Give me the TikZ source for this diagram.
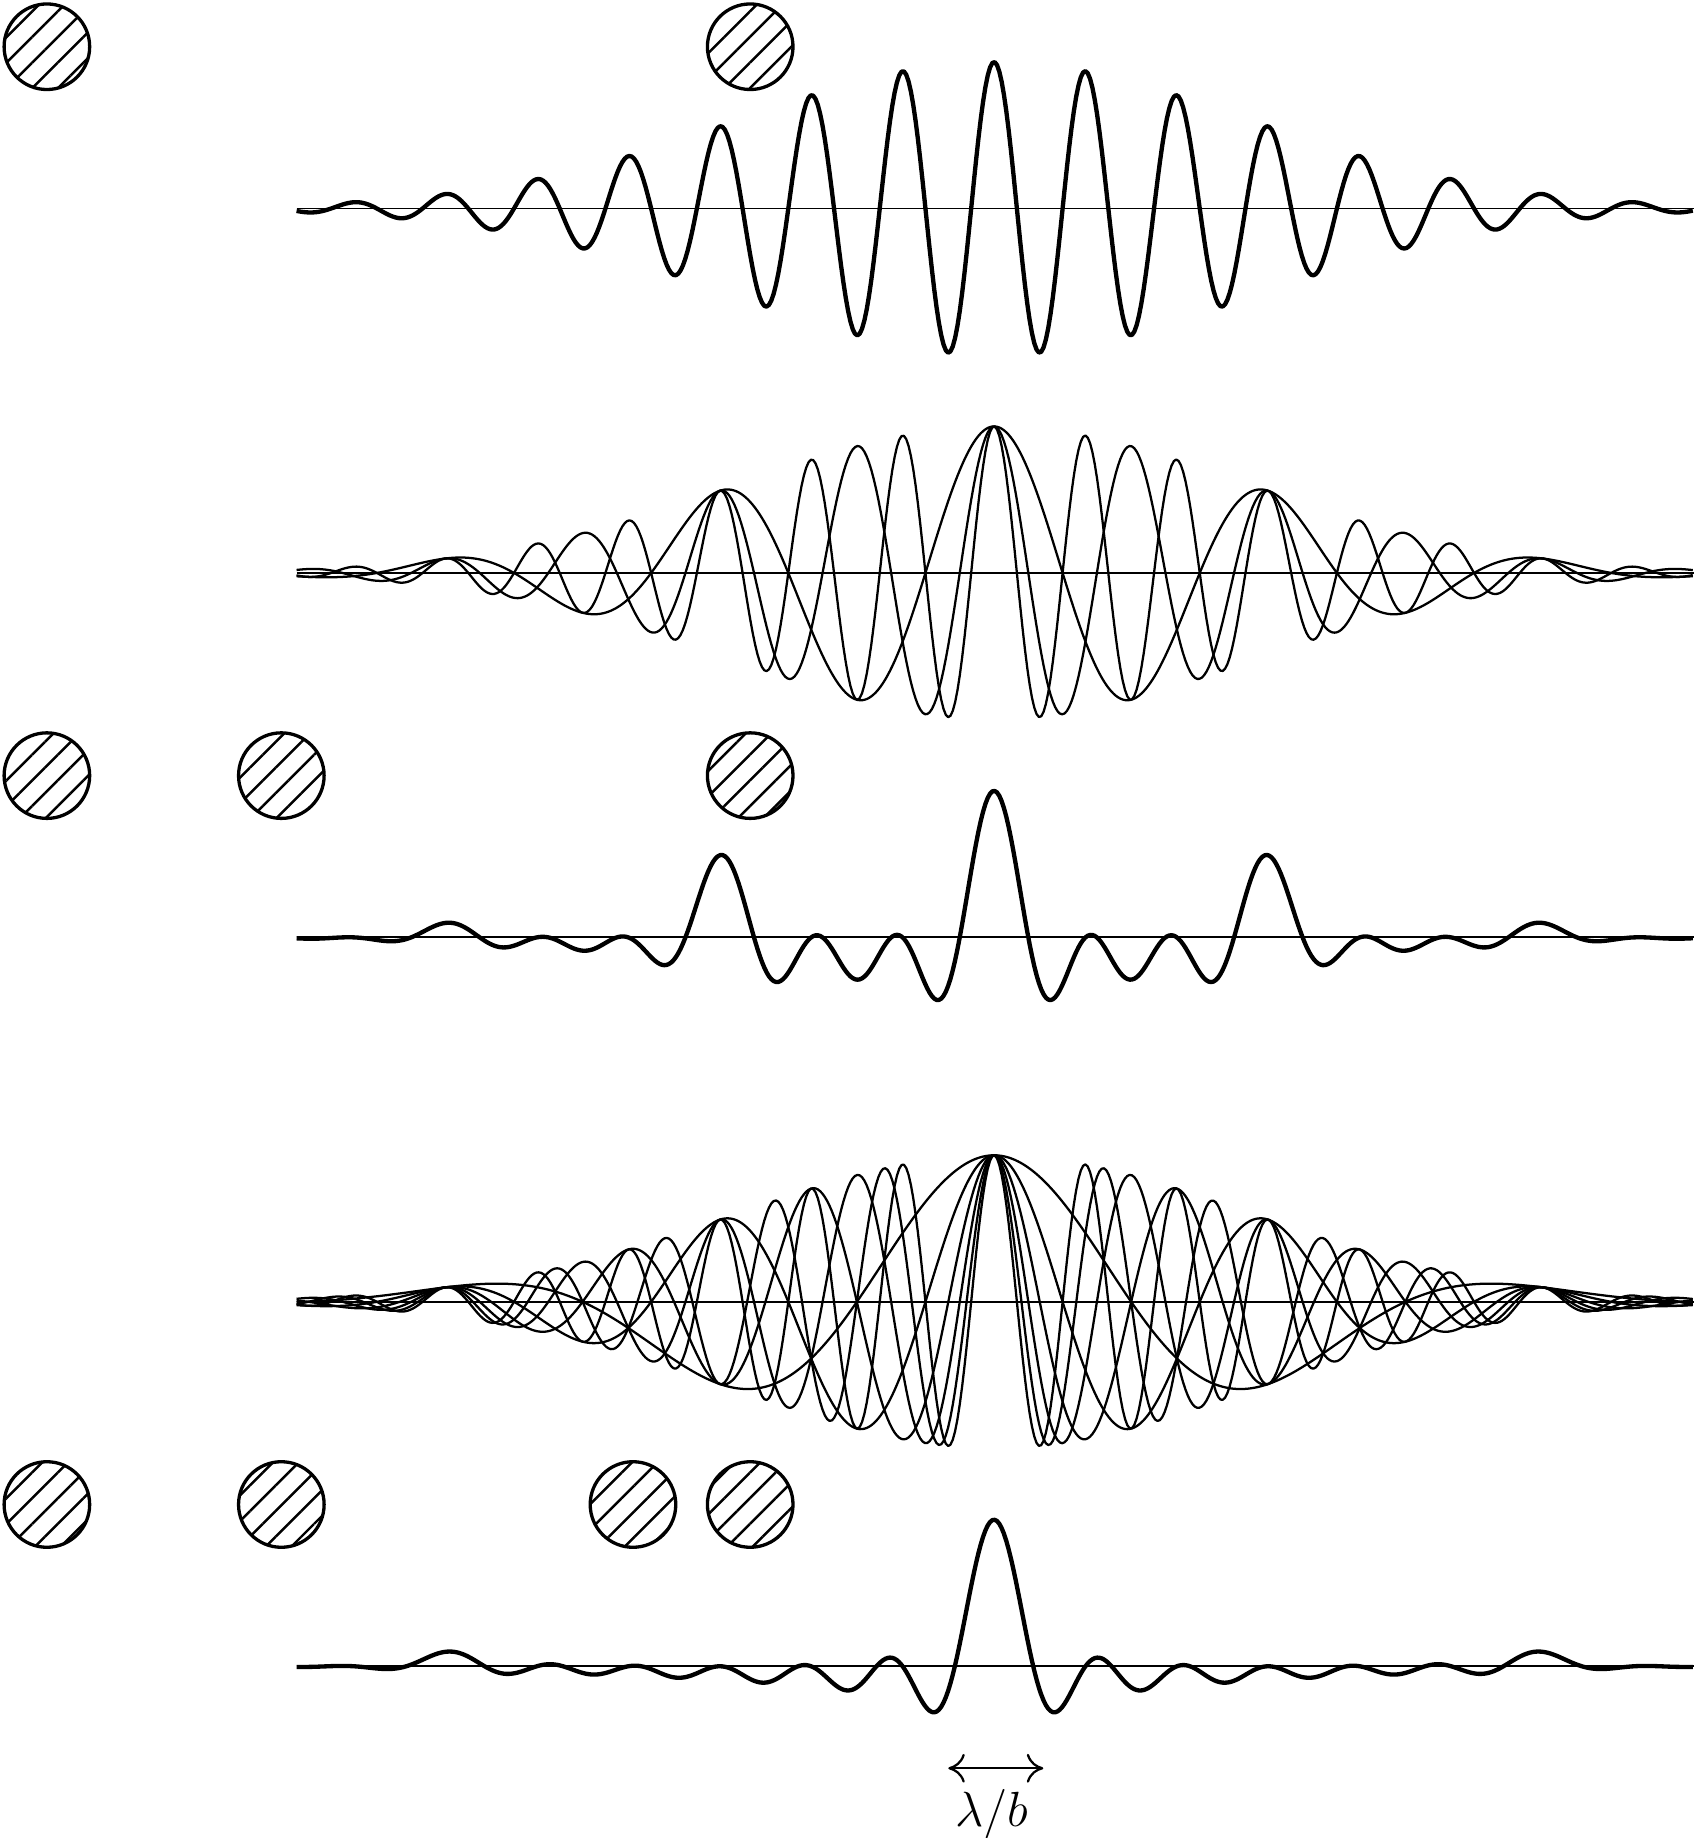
\documentclass[tikz,border=0pt]{standalone}
\usepackage{amsmath, amssymb}
\usepackage{tikz}
\usetikzlibrary{
	arrows.meta,
	patterns.meta,
	positioning
}
\tikzstyle{every picture}+=[>={To[length=4pt,width=7pt]}]

\begin{document}
\begin{tikzpicture}
	\useasboundingbox (0,0) rectangle (14.48,15.68);

	\newcommand\WaveCenter{8.48}
	\newcommand\BasePeriod{4.68}
	\newcommand\EnvWidth{2.175}
	\newcommand\Amplitude{1.25}
	\newcommand\Fringe[1]{exp(-0.5*(\x/\EnvWidth)^2)*cos(360*#1*\x/\BasePeriod)}
	\begin{scope}[
			dish/.style={circle, draw, line width=0.8pt, minimum size=0.73cm, inner sep=0pt,
				pattern={Lines[angle=45, distance=4.4pt, line width=0.6pt]}},
			zeroline/.style={line width=0.45pt},
			fringe/.style={line width=0.55pt, line join=round},
			response/.style={line width=1.05pt, line join=round},
			wave/.style={domain=-5.95:5.97, samples=601}
			]

		% two dishes, one baseline
		\foreach \d in {0,6}
			\node[dish] (dishA\d) at ({0.40+\d},15.281) {};
		\begin{scope}[shift={(\WaveCenter,13.901)}]
			\draw[zeroline] (-5.95,0) -- (5.97,0);
			\draw[response] plot[wave] (\x, {\Amplitude*\Fringe{6}});
		\end{scope}

		% three baselines, separately
		\begin{scope}[shift={(\WaveCenter,10.792)}]
			\draw[zeroline] (-5.95,0) -- (5.97,0);
			\foreach \n in {2,4,6}
				\draw[fringe] plot[wave] (\x, {\Amplitude*\Fringe{\n}});
		\end{scope}

		% three dishes, summed
		\foreach \d in {0,2,6}
			\node[dish] (dishB\d) at ({0.40+\d},9.063) {};
		\begin{scope}[shift={(\WaveCenter,7.683)}]
			\draw[zeroline] (-5.95,0) -- (5.97,0);
			\draw[response] plot[wave] (\x, {\Amplitude*(\Fringe{2}+\Fringe{4}+\Fringe{6})/3});
		\end{scope}

		% six baselines, separately
		\begin{scope}[shift={(\WaveCenter,4.574)}]
			\draw[zeroline] (-5.95,0) -- (5.97,0);
			\foreach \n in {1,...,6}
				\draw[fringe] plot[wave] (\x, {\Amplitude*\Fringe{\n}});
		\end{scope}

		% four dishes, summed
		\foreach \d in {0,2,5,6}
			\node[dish] (dishC\d) at ({0.40+\d},2.845) {};
		\begin{scope}[shift={(\WaveCenter,1.465)}]
			\draw[zeroline] (-5.95,0) -- (5.97,0);
			\draw[response] plot[wave] (\x, {\Amplitude*(\Fringe{1}+\Fringe{2}+\Fringe{3}+\Fringe{4}+\Fringe{5}+\Fringe{6})/6});
		\end{scope}

		\coordinate (beamL) at (8.09,0.595);
		\coordinate (beamR) at (8.90,0.595);
		\draw[<->, line width=0.55pt] (beamL) -- (beamR);
		\node[anchor=base, inner sep=0pt, font=\fontsize{12.8}{15}\selectfont] (beamlabel) at (8.46,0.094) {$\lambda/b$};

	\end{scope}

\end{tikzpicture}
\end{document}
